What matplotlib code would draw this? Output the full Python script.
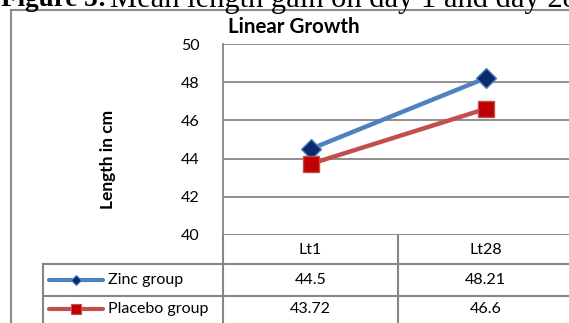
import matplotlib
matplotlib.use("Agg")
import matplotlib.pyplot as plt
from matplotlib.lines import Line2D
from matplotlib.transforms import blended_transform_factory

categories = ["Lt1", "Lt28"]
zinc = [44.5, 48.21]
placebo = [43.72, 46.6]
zinc_labels = ["44.5", "48.21"]
placebo_labels = ["43.72", "46.6"]
series_names = ["Zinc group", "Placebo group"]
yticks = [40, 42, 44, 46, 48, 50]

W, H = 569, 323
plt.rcParams['font.family'] = ['Lato', 'DejaVu Sans']
fig = plt.figure(figsize=(W / 100, H / 100), dpi=100)

def fx(p):
    return p / W

def fy(p):
    return 1 - p / H

GRID = '#868686'
BLUE = '#4F81BD'
NAVY = '#0B2A6B'
RED = '#C0504D'
DRED = '#C00000'
FS = 11.5

# plot area
left, right, top, bottom = 223, 573, 44, 235
ax = fig.add_axes([fx(left), fy(bottom), fx(right - left), (bottom - top) / H])
ax.set_xlim(-0.5, len(categories) - 0.5)
ax.set_ylim(40, 50)
ax.set_yticks(yticks)
ax.set_xticks([])
for s in ['top', 'right', 'bottom']:
    ax.spines[s].set_visible(False)
ax.spines['left'].set_color(GRID)
ax.spines['left'].set_linewidth(1.3)
ax.tick_params(axis='y', length=0, pad=17, labelsize=FS, labelcolor='black')
ax.grid(axis='y', color=GRID, linewidth=1.3)
ax.set_axisbelow(True)
for sp in ax.spines.values():
    sp.set_clip_on(False)

xs = list(range(len(categories)))
ax.plot(xs, zinc, color=BLUE, linewidth=3.2, marker='D', markersize=10,
        markerfacecolor=NAVY, markeredgecolor=BLUE, markeredgewidth=1.0, zorder=3,
        clip_on=False)
ax.plot(xs, placebo, color=RED, linewidth=3.2, marker='s', markersize=12,
        markerfacecolor=DRED, markeredgecolor=RED, markeredgewidth=1.0, zorder=3,
        clip_on=False)

# title and y label
fig.text(fx(294), fy(27), "Linear Growth", ha='center', va='center',
         fontsize=14.8, fontweight='bold')
fig.text(fx(108), fy(159), "Length in cm", ha='center', va='center',
         rotation=90, fontsize=12.5, fontweight='bold')

# outer frame
fig.add_artist(Line2D([fx(11), fx(11)], [fy(10), fy(H + 5)], color='#8c8c8c', lw=1.5,
                      transform=fig.transFigure))
fig.add_artist(Line2D([fx(11), fx(W + 5)], [fy(10), fy(10)], color='#8c8c8c', lw=1.5,
                      transform=fig.transFigure))

# data table
r1, r2, r3 = 235, 264, 296
tl = dict(color=GRID, lw=1.5, transform=fig.transFigure)
fig.add_artist(Line2D([fx(43), fx(W + 5)], [fy(r2), fy(r2)], **tl))
fig.add_artist(Line2D([fx(43), fx(W + 5)], [fy(r3), fy(r3)], **tl))
fig.add_artist(Line2D([fx(43), fx(43)], [fy(r2), fy(H + 5)], **tl))
fig.add_artist(Line2D([fx(left), fx(left)], [fy(r1), fy(H + 5)], **tl))
bt = blended_transform_factory(ax.transData, fig.transFigure)
for i in range(len(categories) - 1):
    fig.add_artist(Line2D([i + 0.5, i + 0.5], [fy(r1), fy(H + 5)], color=GRID, lw=1.5,
                          transform=bt))

for i, c in enumerate(categories):
    fig.text(i, fy(250), c, transform=bt, ha='center', va='center', fontsize=FS)
    fig.text(i, fy(280), zinc_labels[i], transform=bt, ha='center', va='center', fontsize=FS)
    fig.text(i, fy(309), placebo_labels[i], transform=bt, ha='center', va='center', fontsize=FS)

# legend keys in table
fig.add_artist(Line2D([fx(49), fx(103)], [fy(280), fy(280)], color=BLUE, lw=3.0,
                      solid_capstyle='round', transform=fig.transFigure))
fig.add_artist(Line2D([fx(76)], [fy(280)], marker='D', markersize=5, color=NAVY,
                      markeredgecolor=BLUE, markeredgewidth=0.8, transform=fig.transFigure))
fig.add_artist(Line2D([fx(49), fx(103)], [fy(309), fy(309)], color=RED, lw=3.0,
                      solid_capstyle='round', transform=fig.transFigure))
fig.add_artist(Line2D([fx(76)], [fy(309)], marker='s', markersize=7, color=DRED,
                      markeredgecolor=RED, markeredgewidth=0.8, transform=fig.transFigure))
fig.text(fx(108), fy(280), series_names[0], ha='left', va='center', fontsize=FS)
fig.text(fx(108), fy(309), series_names[1], ha='left', va='center', fontsize=FS)

# caption (cut off at the top, as in the reference)
fig.text(fx(1), fy(6.5), "Figure 3:", ha='left', va='baseline', fontsize=19.5,
         fontweight='bold', family=['Liberation Serif'])
fig.text(fx(110), fy(6.5), "Mean length gain on day 1 and day 28", ha='left',
         va='baseline', fontsize=22, family=['Liberation Serif'])

fig.savefig("out.png", dpi=100)
